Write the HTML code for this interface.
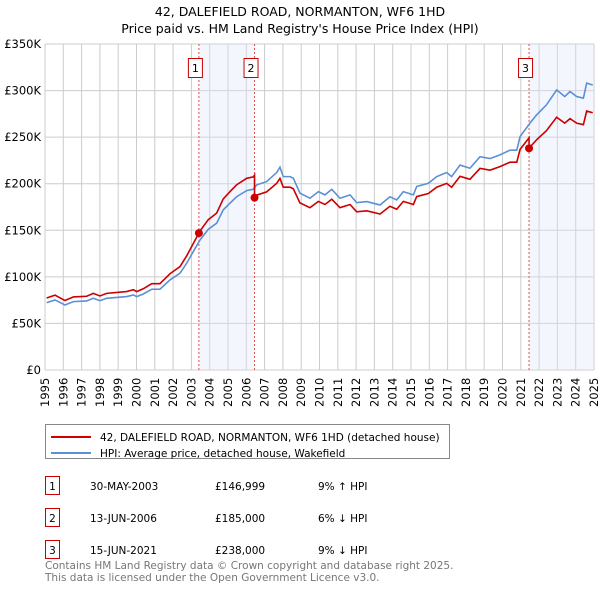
<!DOCTYPE html>
<html><head><meta charset="utf-8"><style>
body{margin:0;background:#fff;font-family:"DejaVu Sans","Liberation Sans",sans-serif;}
svg text{font-family:"DejaVu Sans","Liberation Sans",sans-serif;}
</style></head><body>
<svg id="c" width="600" height="590" viewBox="0 0 600 590" xmlns="http://www.w3.org/2000/svg">
<text x="300" y="16" text-anchor="middle" font-size="12.5" fill="#000">42, DALEFIELD ROAD, NORMANTON, WF6 1HD</text>
<text x="300" y="33" text-anchor="middle" font-size="12.5" fill="#000">Price paid vs. HM Land Registry's House Price Index (HPI)</text>
<g id="grid"></g><g id="shade"></g><g id="series"></g><g id="axes"></g>
<g>
<rect x="45.5" y="424.5" width="404" height="34" fill="#fff" stroke="#888"/>
<line x1="51" y1="437" x2="91" y2="437" stroke="#cc0000" stroke-width="2"/>
<text x="100" y="441" font-size="10.5">42, DALEFIELD ROAD, NORMANTON, WF6 1HD (detached house)</text>
<line x1="51" y1="453" x2="91" y2="453" stroke="#5b8fd6" stroke-width="2"/>
<text x="100" y="457" font-size="10.5">HPI: Average price, detached house, Wakefield</text>
</g>
<g id="table" font-size="10.5"></g>
<text x="45" y="569" font-size="10.5" fill="#777">Contains HM Land Registry data © Crown copyright and database right 2025.</text>
<text x="45" y="581" font-size="10.5" fill="#777">This data is licensed under the Open Government Licence v3.0.</text>
</svg>
<script>
const hpiYears=[1995.09,1995.55,1996.09,1996.55,1997.28,1997.64,1998.0,1998.37,1999.46,1999.83,2000.01,2000.37,2000.83,2001.28,2001.83,2002.38,2002.74,2003.1,2003.47,2003.92,2004.38,2004.74,2005.1,2005.47,2006.02,2006.38,2006.57,2007.11,2007.66,2007.84,2008.02,2008.39,2008.57,2008.93,2009.48,2009.94,2010.3,2010.67,2011.12,2011.67,2012.03,2012.58,2013.31,2013.85,2014.22,2014.58,2015.13,2015.31,2015.95,2016.4,2016.95,2017.22,2017.68,2018.22,2018.77,2019.32,2019.86,2020.41,2020.78,2020.96,2021.5,2021.87,2022.4,2022.96,2023.4,2023.69,2024.05,2024.42,2024.6,2024.93];
const hpiValues=[72.3,75.2,69.8,73.4,74.1,77,74.4,77,78.8,80.6,78.8,81.6,86.7,86.7,96.7,103.9,114.6,127,139.6,151,157.6,171.9,179,186,192.6,194,198.7,202.3,212,217.7,207.6,207.6,205.9,189.8,184.4,191.5,188,194,184.4,188,179.7,180.8,177.2,186,182.6,191.5,188,197,200.5,207.6,212,207.6,220,216.6,229,227,231,236,236,250.6,265,274,284.6,300.7,293.6,299,293.6,291.8,308,306];
const saleYears=[2003.41,2006.45,2021.45];
const salePrices=[146.999,185,238];
const saleLabels=["1","2","3"];
const saleDates=["30-MAY-2003","13-JUN-2006","15-JUN-2021"];
const salePriceText=["£146,999","£185,000","£238,000"];
const saleHpiText=["9% ↑ HPI","6% ↓ HPI","9% ↓ HPI"];
const yTicks=[0,50,100,150,200,250,300,350];
const yTickLabels=["£0","£50K","£100K","£150K","£200K","£250K","£300K","£350K"];
const xTicks=[1995,1996,1997,1998,1999,2000,2001,2002,2003,2004,2005,2006,2007,2008,2009,2010,2011,2012,2013,2014,2015,2016,2017,2018,2019,2020,2021,2022,2023,2024,2025];

const NS="http://www.w3.org/2000/svg";
const L=45,R=594,T=44,B=370;
const X=y=>L+(y-1995)/30*(R-L);
const Y=v=>B-v/350*(B-T);
function mk(tag,attrs,parent){const e=document.createElementNS(NS,tag);for(const k in attrs)e.setAttribute(k,attrs[k]);parent.appendChild(e);return e;}
function hpiAt(t){if(t<=hpiYears[0])return hpiValues[0];for(let i=1;i<hpiYears.length;i++){if(t<=hpiYears[i]){const f=(t-hpiYears[i-1])/(hpiYears[i]-hpiYears[i-1]);return hpiValues[i-1]+f*(hpiValues[i]-hpiValues[i-1]);}}return hpiValues[hpiValues.length-1];}
const grid=document.getElementById('grid'),shade=document.getElementById('shade'),series=document.getElementById('series'),axes=document.getElementById('axes');
xTicks.forEach(t=>{const l=mk('line',{x1:X(t),x2:X(t),y1:T,y2:B,stroke:'#cccccc','stroke-width':1},grid);


const tx=mk('text',{transform:`translate(${X(t)+4},${B+37}) rotate(-90)`,'font-size':'11.5',fill:'#000'},axes);tx.textContent=t;

});
yTicks.forEach((v,i)=>{const l=mk('line',{x1:L,x2:R,y1:Y(v),y2:Y(v),stroke:'#cccccc','stroke-width':1},grid);


const tx=mk('text',{x:L-4,y:Y(v)+4,'text-anchor':'end','font-size':'11.5',fill:'#000'},axes);tx.textContent=yTickLabels[i];

});
const s1=mk('rect',{x:X(saleYears[0]),y:T,width:X(saleYears[1])-X(saleYears[0]),height:B-T,fill:'#dde6f7','fill-opacity':0.35},shade);


const s2=mk('rect',{x:X(saleYears[2]),y:T,width:R-X(saleYears[2]),height:B-T,fill:'#dde6f7','fill-opacity':0.35},shade);


const hp=mk('polyline',{points:hpiYears.map((t,i)=>X(t)+','+Y(hpiValues[i])).join(' '),fill:'none',stroke:'#5b8fd6','stroke-width':1.6},series);


function segIdx(t){let k=0;for(let i=0;i<saleYears.length;i++)if(t>=saleYears[i])k=i;return k;}
let pts=[];const allT=hpiYears.concat(saleYears).sort((a,b)=>a-b);
allT.forEach(t=>{const k=segIdx(t);pts.push([t,salePrices[k]*hpiAt(t)/hpiAt(saleYears[k])]);
 saleYears.forEach((s,j)=>{if(j>0&&t===s){const k0=j-1;pts.splice(pts.length-1,0,[s,salePrices[k0]*hpiAt(s)/hpiAt(saleYears[k0])]);}});});
const rp=mk('polyline',{points:pts.map(p=>X(p[0])+','+Y(p[1])).join(' '),fill:'none',stroke:'#cc0000','stroke-width':1.6},series);


const table=document.getElementById('table');
saleYears.forEach((s,i)=>{const vl=mk('line',{x1:X(s),x2:X(s),y1:T,y2:B,stroke:'#e05050','stroke-dasharray':'2,2','stroke-width':1},shade);


const d=mk('circle',{cx:X(s),cy:Y(salePrices[i]),r:4,fill:'#cc0000'},series);


const g=mk('g',{},axes);


mk('rect',{x:X(s)-10.5,y:58.5,width:14,height:19,fill:'#fff',stroke:'#cc0000'},g);
const lt=mk('text',{x:X(s)-3.5,y:72,'text-anchor':'middle','font-size':'11'},g);lt.textContent=saleLabels[i];
const ry=476+i*32;
const row=mk('g',{},table);


mk('rect',{x:45.5,y:ry+0.5,width:14,height:18,fill:'#fff',stroke:'#cc0000'},row);
const n=mk('text',{x:52.5,y:ry+14,'text-anchor':'middle'},row);n.textContent=saleLabels[i];
const a=mk('text',{x:90,y:ry+14},row);a.textContent=saleDates[i];
const b=mk('text',{x:215,y:ry+14},row);b.textContent=salePriceText[i];
const c=mk('text',{x:318,y:ry+14},row);c.textContent=saleHpiText[i];});
</script>
</body></html>
